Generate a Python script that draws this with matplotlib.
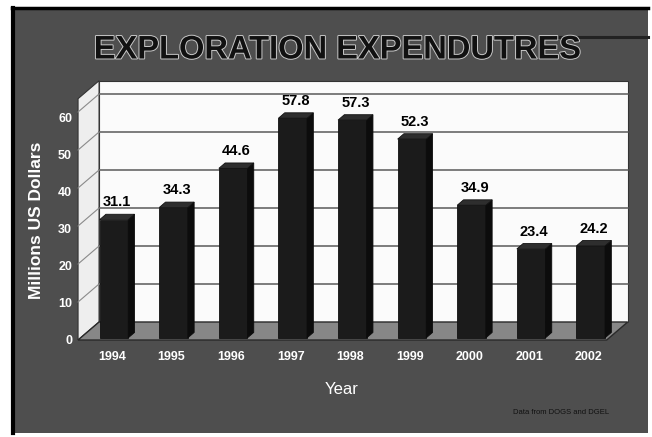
import matplotlib
matplotlib.use("Agg")
import matplotlib.pyplot as plt
import matplotlib.patheffects as pe
from matplotlib.patches import Polygon, Rectangle
from matplotlib.lines import Line2D

years = ['1994', '1995', '1996', '1997', '1998', '1999', '2000', '2001', '2002']
spend = [31.1, 34.3, 44.6, 57.8, 57.3, 52.3, 34.9, 23.4, 24.2]
y_ticks = [0, 10, 20, 30, 40, 50, 60]

W, H = 652, 437
SX, SY = 59.6, 3.8          # pixels per category / per million
X0_PX, Y0_PX = 115, 340     # where category 0 / value 0 sit on the front plane

fig = plt.figure(figsize=(W / 100, H / 100), dpi=100)
fig.patch.set_facecolor('white')

# slide background with black frame on left and top
fig.patches.append(Rectangle((12 / W, 4 / H), 636 / W, 425 / H, transform=fig.transFigure,
                             facecolor='#4e4e4e', edgecolor='none', zorder=-2))
fig.lines.append(Line2D([13 / W, 13 / W], [4 / H, 429 / H], transform=fig.transFigure,
                        color='black', lw=3, zorder=-1))
fig.lines.append(Line2D([12 / W, 648 / W], [429 / H, 429 / H], transform=fig.transFigure,
                        color='black', lw=2.5, zorder=-1))
fig.lines.append(Line2D([553 / W, 648 / W], [(H - 37) / H, (H - 37) / H], transform=fig.transFigure,
                        color='#222222', lw=2.2, zorder=-1))

ax = fig.add_axes([0, 0, 1, 1], zorder=1)
ax.set_xlim((0 - X0_PX) / SX, (W - X0_PX) / SX)
ax.set_ylim((Y0_PX - H) / SY, Y0_PX / SY)
ax.patch.set_alpha(0)
ax.axis('off')

# 3d box: depth offset and extents
DX, DY = 21 / SX, 18 / SY
x0, x1 = -0.62, 8.25
ytop = 63.5

back = Polygon([(x0 + DX, DY), (x1 + DX, DY), (x1 + DX, ytop + DY), (x0 + DX, ytop + DY)],
               facecolor='#fbfbfb', edgecolor='#333333', lw=0.8, zorder=1)
side = Polygon([(x0, 0), (x0 + DX, DY), (x0 + DX, ytop + DY), (x0, ytop)],
               facecolor='#eeeeee', edgecolor='#333333', lw=0.8, zorder=1)
floor = Polygon([(x0, 0), (x1, 0), (x1 + DX, DY), (x0 + DX, DY)],
                facecolor='#878787', edgecolor='#2a2a2a', lw=1.0, zorder=1)
for p in (back, side, floor):
    ax.add_patch(p)

for v in y_ticks[1:]:
    ax.plot([x0 + DX, x1 + DX], [v + DY, v + DY], color='#5a5a5a', lw=1.1, zorder=2)
    ax.plot([x0, x0 + DX], [v, v + DY], color='#8a8a8a', lw=0.8, zorder=2)

# bars: front face, right side and top
f0 = 0.12
bdx, bdy = 0.3 * DX, 0.3 * DY
w = 0.48
for i, (yr, v) in enumerate(zip(years, spend)):
    L = i - 0.3 + f0 * DX
    R = L + w
    b = f0 * DY
    t = v + b
    ax.add_patch(Polygon([(L, b), (R, b), (R, t), (L, t)],
                         facecolor='#1b1b1b', edgecolor='#111111', lw=0.6, zorder=3))
    ax.add_patch(Polygon([(R, b), (R + bdx, b + bdy), (R + bdx, t + bdy), (R, t)],
                         facecolor='#0c0c0c', edgecolor='#0c0c0c', lw=0.6, zorder=3))
    ax.add_patch(Polygon([(L, t), (R, t), (R + bdx, t + bdy), (L + bdx, t + bdy)],
                         facecolor='#2e2e2e', edgecolor='#111111', lw=0.6, zorder=3))
    ax.text((L + R + bdx) / 2, t + bdy + 1.3, f'{v:.1f}', ha='center', va='bottom',
            fontsize=10.5, fontweight='bold', family='Liberation Sans', color='black', zorder=4)
    ax.text(i - 0.05, -4.6, yr, ha='center', va='center', fontsize=9,
            fontweight='bold', family='Liberation Sans', color='white', zorder=4)

for v in y_ticks:
    ax.text(-0.72, v * 0.975 - 0.3, str(v), ha='right', va='center', fontsize=9,
            fontweight='bold', family='Liberation Sans', color='white')

fig.text(37 / W, 1 - 220 / H, 'Millions US Dollars', rotation=90, ha='center', va='center',
         fontsize=12.5, fontweight='bold', family='Liberation Sans', color='white')
fig.text(342 / W, 1 - 390 / H, 'Year', ha='center', va='center', fontsize=12,
         family='Liberation Sans', color='white')
fig.text(561 / W, 1 - 413 / H, 'Data from DOGS and DGEL', ha='center', va='center',
         fontsize=5.5, family='Liberation Sans', color='#111111')

fig.text(337 / W, 1 - 50 / H, 'EXPLORATION EXPENDUTRES', ha='center', va='center',
         fontsize=23.5, fontweight='bold', family='Liberation Sans', color='#111111',
         path_effects=[pe.withStroke(linewidth=1.4, foreground='#c8c8c8')])

fig.savefig('out.png', dpi=100)
